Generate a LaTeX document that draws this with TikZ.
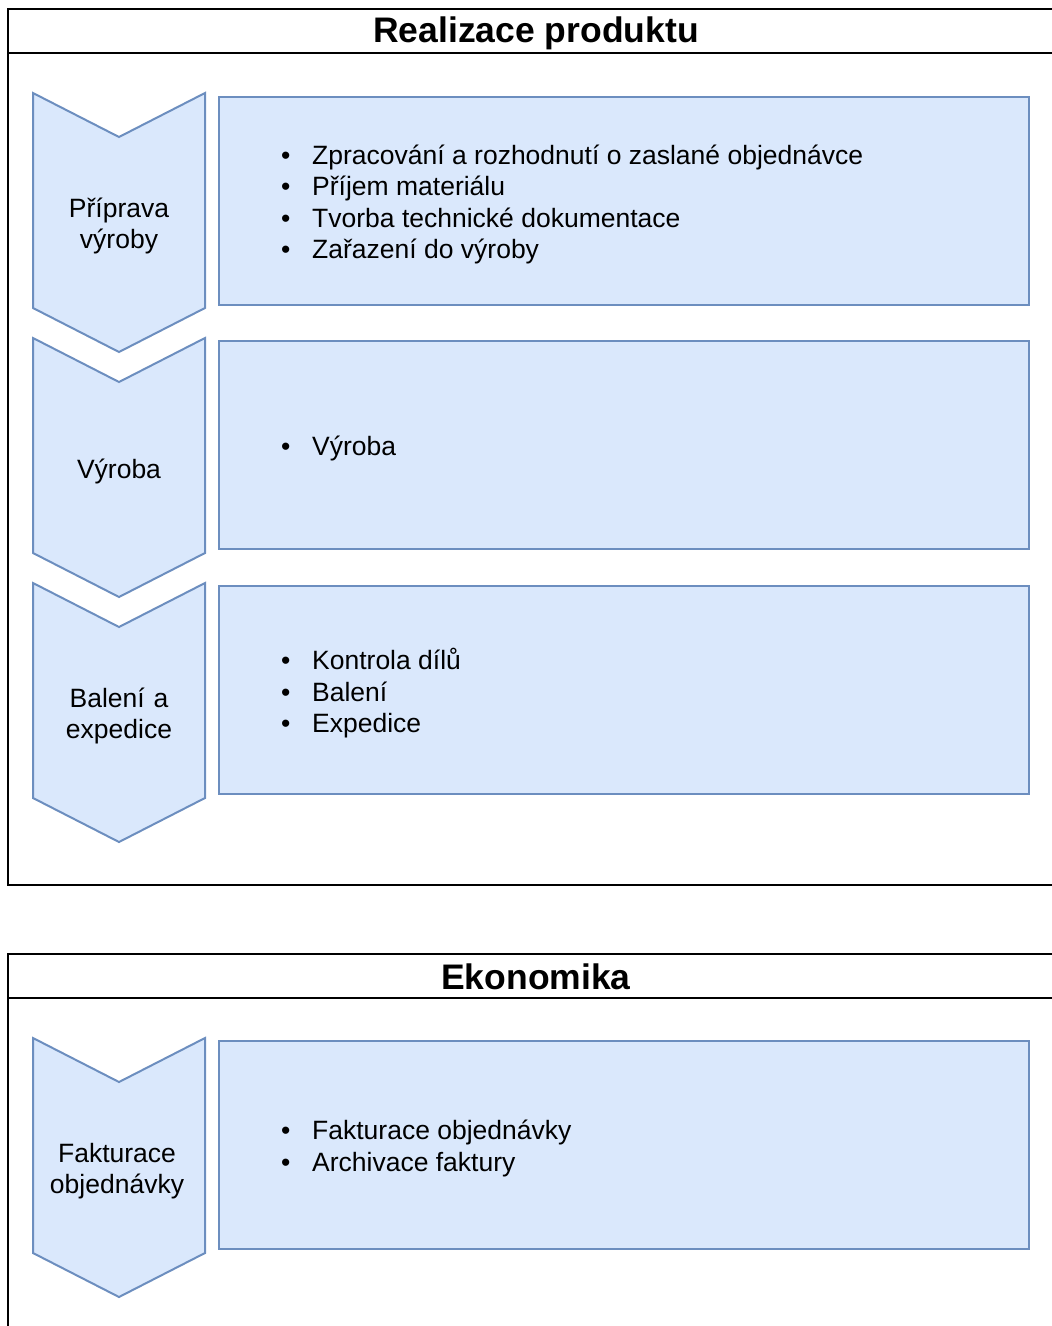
\documentclass[tikz,border=0pt]{standalone}
\usepackage{fontspec}
\setmainfont{Liberation Sans}
\definecolor{stepfill}{HTML}{DAE8FC}
\definecolor{stepline}{HTML}{6C8EBF}
\newcommand{\bitem}[1]{\makebox[32pt][l]{\hspace{1pt}\textbullet}#1}
\begin{document}
\begin{tikzpicture}[x=1pt,y=-1pt,
  frame/.style={draw=black,line width=2pt},
  chev/.style={draw=stepline,fill=stepfill,line width=2pt,line join=miter},
  detail/.style={draw=stepline,fill=stepfill,line width=2pt},
  chevtext/.style={font=\fontsize{26.5}{31.5}\selectfont,align=center,text width=170pt},
  listtext/.style={font=\fontsize{26.5}{31.5}\selectfont,align=left,anchor=west,inner sep=0pt},
  title/.style={font=\fontsize{35.5}{40}\selectfont\bfseries}]
\useasboundingbox (0,0) rectangle (1052,1326);
% section frames
\draw[frame] (1080,9) -- (7.5,9) -- (7.5,885) -- (1080,885);
\draw[frame] (7.5,53) -- (1080,53);
\node[title] (t1) at (536,33) {Realizace produktu};
\draw[frame] (1080,954) -- (7.5,954) -- (7.5,1340);
\draw[frame] (7.5,998) -- (1080,998);
\node[title] (t2) at (536,977) {Ekonomika};
% chevron steps
\foreach \n/\y in {c1/93,c2/338,c3/583,c4/1038}{
  \draw[chev] (33,\y) -- (119,\y+44) -- (205,\y) -- (205,\y+215) -- (119,\y+259) -- (33,\y+215) -- cycle;
  \coordinate (\n) at (119,\y+133);
}
\node[chevtext] (l1) at (c1) {Příprava\\výroby};
\node[chevtext] (l2) at (c2) {Výroba};
\node[chevtext] (l3) at (c3) {Balení a\\expedice};
\node[chevtext,xshift=-2pt] (l4) at (c4) {Fakturace\\objednávky};
% detail boxes
\foreach \n/\y in {r1/97,r2/341,r3/586,r4/1041}{
  \draw[detail] (219,\y) rectangle (1029,\y+208);
  \coordinate (\n) at (280,\y+107.5);
}
\node[listtext] (d1) at (r1) {\bitem{Zpracování a rozhodnutí o zaslané objednávce}\\\bitem{Příjem materiálu}\\\bitem{Tvorba technické dokumentace}\\\bitem{Zařazení do výroby}};
\node[listtext] (d2) at (r2) {\bitem{Výroba}};
\node[listtext] (d3) at (r3) {\bitem{Kontrola dílů}\\\bitem{Balení}\\\bitem{Expedice}};
\node[listtext] (d4) at (r4) {\bitem{Fakturace objednávky}\\\bitem{Archivace faktury}};
\end{tikzpicture}
\end{document}
